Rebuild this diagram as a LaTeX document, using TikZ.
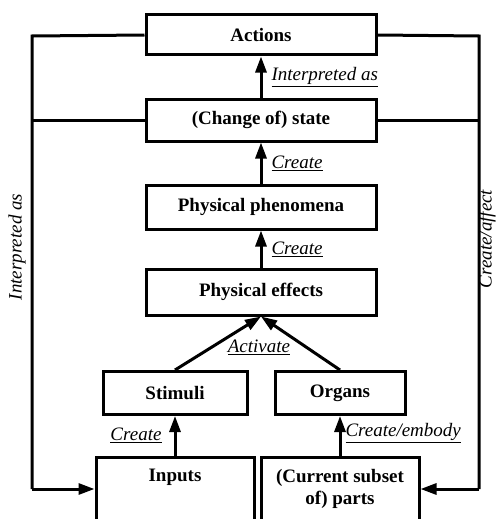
\documentclass[tikz,border=0pt]{standalone}
\usepackage{fontspec}
\setmainfont{Liberation Serif}
\usetikzlibrary{arrows.meta}

\tikzset{
  box/.style={draw, line width=3pt, inner sep=0pt, font=\fontsize{19}{22}\selectfont\bfseries},
  link/.style={line width=3pt, -{Triangle[length=16pt,width=11pt]}},
  feed/.style={line width=3pt},
  verb/.style={font=\fontsize{19}{22}\selectfont\itshape, inner sep=0pt},
}

\begin{document}
\begin{tikzpicture}[x=1pt, y=-1pt]
  \clip (0,0) rectangle (496,519);

  \node[box, minimum width=230, minimum height=40] (act)  at (261,35)  {Actions};
  \node[box, minimum width=230, minimum height=42] (st)   at (261,120) {(Change of) state};
  \node[box, minimum width=230, minimum height=44] (phen) at (261,207) {Physical phenomena};
  \node[box, minimum width=230, minimum height=46] (eff)  at (261,292) {Physical effects};
  \node[box, minimum width=144, minimum height=43] (stim) at (175,393) {Stimuli};
  \node[box, minimum width=130, minimum height=43] (org)  at (340,393) {Organs};
  \node[box, minimum width=158, minimum height=64] (inp)  at (175,489) {};
  \node[box, draw=none] (inptxt) at (175,477) {Inputs};
  \node[box, minimum width=158, minimum height=64, align=center] (parts) at (340,489) {(Current subset\\of) parts};

  \coordinate (lt) at (32,36);
  \coordinate (lb) at (32,489);
  \coordinate (rt) at (479,36);
  \coordinate (rb) at (479,489);

  % upward chain
  \draw[link] (st) -- (act) node[verb, midway, right=9pt] {\underline{Interpreted as}};
  \draw[link] (phen) -- (st) node[verb, midway, right=9pt] {\underline{Create}};
  \draw[link] (eff) -- (phen) node[verb, midway, right=9pt] {\underline{Create}};
  \draw[link] (stim.north) -- (eff.south);
  \draw[link] (org.north) -- (eff.south);
  \node[verb] (actv) at (259,347) {\underline{Activate}};
  \draw[link] (inp.north) -- (stim.south) node[verb, midway, left=12pt] {\underline{Create}};
  \draw[link] (parts.north) -- (org.south) node[verb, midway, right=4pt, yshift=3pt] {\underline{Create/embody}};

  % feedback loops
  \draw[feed] (act.west) -- (lt) -- (lb);
  \draw[feed] (st.west) -- (st.west -| lt);
  \draw[link] (lb) -- (inp.west);
  \draw[feed] (act.east) -- (rt) -- (rb);
  \draw[feed] (st.east) -- (st.east -| rt);
  \draw[link] (rb) -- (parts.east);
  \node[verb, rotate=90] (lbl1) at (17,247) {Interpreted as};
  \node[verb, rotate=90] (lbl2) at (487,239) {Create/affect};
\end{tikzpicture}
\end{document}
